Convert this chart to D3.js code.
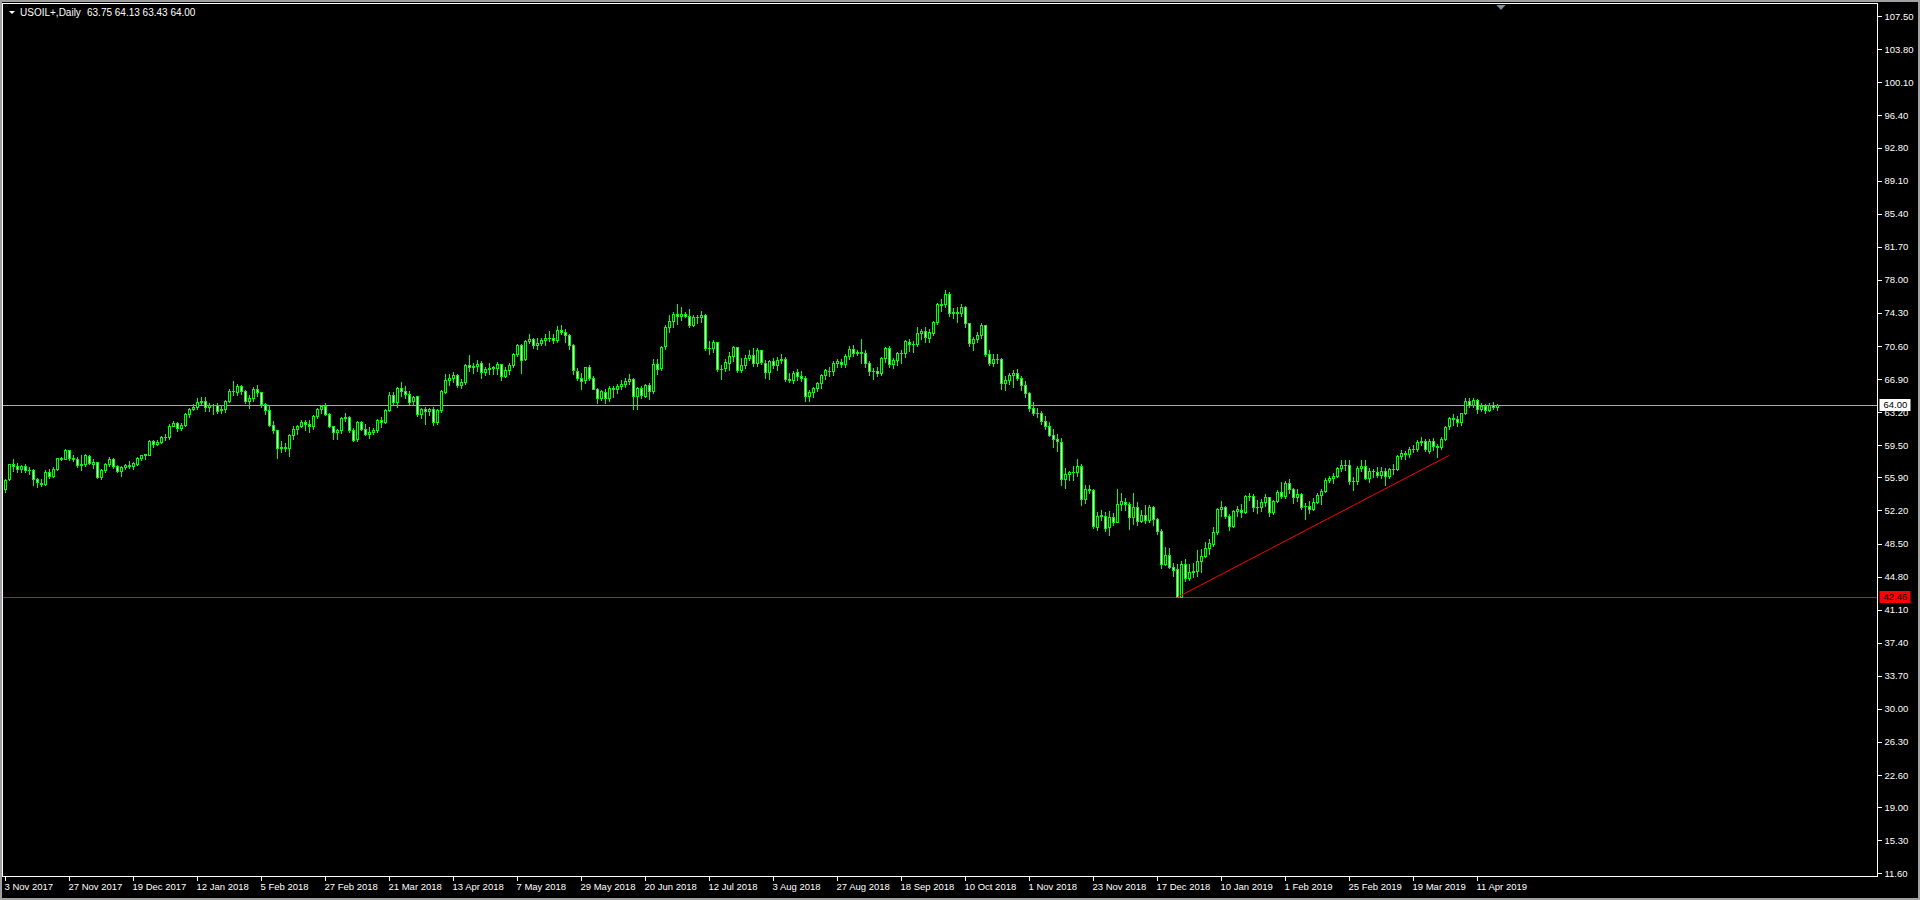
<!DOCTYPE html>
<html><head><meta charset="utf-8">
<script src="https://cdn.jsdelivr.net/npm/d3@7"></script>
<style>html,body{margin:0;padding:0;background:#000;overflow:hidden}
text{font-family:"Liberation Sans",Arial,sans-serif}</style>
</head><body>
<svg id="chart" width="1920" height="900"></svg>
<script>
// ---------- data ----------
const symbolTitle = "USOIL+,Daily";
const headerValues = "63.75 64.13 63.43 64.00";
// daily bars [open, high, low, close], 3 Nov 2017 .. 18 Apr 2019
const ohlc = [
[54.55,55.75,54.30,55.64],[55.70,57.45,55.55,57.35],[57.35,57.92,56.60,57.20],[57.20,57.55,56.50,56.81],[56.80,57.30,56.45,57.17],
[57.15,57.45,56.55,56.74],[56.75,57.10,56.25,56.76],[56.75,56.85,55.10,55.70],[55.70,55.85,54.85,55.33],[55.30,55.70,54.90,55.14],
[55.15,56.70,55.10,56.55],[56.55,56.80,55.80,56.09],[56.10,57.05,55.90,56.83],[56.85,58.10,56.75,58.02],[58.05,58.20,57.80,58.00],
[58.00,59.05,57.90,58.95],[58.95,59.00,57.85,58.11],[58.10,58.40,57.70,57.99],[57.95,58.15,57.10,57.30],[57.30,58.40,56.75,57.40],
[57.45,58.50,57.20,58.36],[58.30,58.40,57.35,57.47],[57.45,57.90,56.90,57.62],[57.60,57.65,55.85,55.96],[55.95,56.80,55.75,56.69],
[56.70,57.50,56.45,57.36],[57.35,58.20,57.20,57.99],[58.00,58.10,57.00,57.14],[57.15,57.30,56.45,56.60],[56.60,57.20,56.10,57.04],
[57.05,57.45,56.80,57.30],[57.30,57.70,57.00,57.16],[57.15,57.60,56.85,57.46],[57.45,58.20,57.30,58.09],[58.10,58.40,57.80,58.36],
[58.35,58.55,57.95,58.47],[58.45,60.05,58.40,59.97],[59.95,60.10,59.35,59.64],[59.65,60.05,59.50,59.84],[59.85,60.50,59.80,60.42],
[60.40,60.75,60.10,60.37],[60.40,61.90,60.20,61.63],[61.65,62.20,61.60,62.01],[62.00,62.05,61.10,61.44],[61.45,61.95,61.25,61.73],
[61.75,63.10,61.70,62.96],[62.95,63.70,62.60,63.57],[63.55,64.10,63.40,63.80],[63.80,64.75,63.60,64.30],[64.30,64.90,64.10,64.45],
[64.45,64.90,63.30,63.73],[63.75,64.20,63.30,63.97],[63.95,64.10,62.95,63.95],[63.95,64.20,63.15,63.37],[63.40,64.00,63.10,63.57],
[63.55,64.60,63.20,64.47],[64.50,65.75,64.30,65.61],[65.60,66.65,65.10,65.51],[65.50,66.30,65.10,66.14],[66.10,66.20,65.20,65.56],
[65.55,65.65,64.25,64.50],[64.50,65.10,63.65,64.73],[64.75,66.00,64.40,65.80],[65.80,66.25,64.95,65.45],[65.45,65.50,63.80,64.15],
[64.10,64.20,62.95,63.39],[63.40,64.05,61.70,61.79],[61.80,62.20,60.90,61.15],[61.15,61.25,58.10,59.20],[59.20,60.00,58.75,59.29],
[59.30,59.70,58.80,59.19],[59.20,60.80,58.25,60.60],[60.60,61.60,60.20,61.34],[61.35,61.80,60.75,61.68],[61.70,62.30,61.50,62.10],
[62.10,62.30,61.20,61.90],[61.90,62.30,61.00,61.68],[61.70,62.90,61.30,62.77],[62.80,63.70,62.50,63.55],[63.55,64.00,63.10,63.91],
[63.90,64.20,62.90,63.01],[63.00,63.15,61.50,61.64],[61.65,61.70,60.20,60.99],[61.00,61.35,60.15,61.25],[61.25,62.70,60.90,62.57],
[62.55,63.05,62.20,62.60],[62.60,62.75,60.95,61.15],[61.15,61.40,59.95,60.12],[60.15,62.20,60.00,62.04],[62.05,62.25,61.25,61.36],
[61.35,61.90,60.60,60.71],[60.70,61.50,60.25,60.96],[60.95,61.45,60.70,61.19],[61.20,62.45,61.00,62.34],[62.35,62.60,61.55,62.06],
[62.05,63.60,61.95,63.40],[63.40,65.40,63.30,65.17],[65.15,65.45,64.10,64.30],[64.30,66.00,63.80,65.88],[65.90,66.60,64.95,65.55],
[65.55,66.10,64.80,65.25],[65.25,65.55,64.10,64.38],[64.40,65.05,64.00,64.94],[64.95,65.00,62.80,63.01],[63.00,63.70,62.55,63.51],
[63.50,63.80,61.85,63.37],[63.35,63.65,62.85,63.54],[63.55,63.75,61.80,62.06],[62.05,63.55,61.85,63.42],[63.40,65.70,63.20,65.51],
[65.50,67.45,65.30,66.82],[66.80,67.50,66.20,67.07],[67.05,67.65,66.55,67.39],[67.40,67.50,66.05,66.22],[66.20,66.95,65.90,66.52],
[66.55,68.60,66.40,68.47],[68.45,69.55,67.85,68.29],[68.30,68.70,67.60,68.38],[68.40,69.05,67.85,68.64],[68.65,68.95,67.05,67.70],
[67.70,68.25,67.30,68.05],[68.05,68.75,67.50,68.19],[68.20,68.35,67.50,68.10],[68.10,68.85,67.50,68.57],[68.55,68.60,66.85,67.25],
[67.25,68.20,67.10,67.93],[67.95,68.65,67.50,68.43],[68.45,69.80,68.30,69.72],[69.75,70.85,69.50,70.73],[70.70,70.85,67.55,69.06],
[69.10,71.30,69.00,71.14],[71.15,71.90,70.95,71.36],[71.35,71.50,70.40,70.70],[70.70,71.45,70.30,70.96],[70.95,71.55,70.70,71.31],
[71.30,71.90,70.75,71.49],[71.50,72.30,71.15,71.49],[71.50,71.90,70.95,71.28],[71.30,72.80,71.00,72.35],[72.35,72.90,71.90,72.13],
[72.15,72.45,71.00,71.84],[71.85,71.95,70.30,70.71],[70.70,70.85,67.45,67.88],[67.85,68.10,66.80,67.00],[67.00,67.60,65.80,66.73],
[66.75,68.30,66.50,68.21],[68.20,68.45,66.80,67.04],[67.05,67.25,65.75,65.81],[65.80,65.90,64.20,64.75],[64.75,65.70,64.60,65.52],
[65.50,65.75,64.25,64.73],[64.75,66.10,64.50,65.95],[65.95,66.10,64.85,65.74],[65.75,66.40,65.35,66.10],[66.10,66.80,65.75,66.36],
[66.35,67.05,66.00,66.64],[66.65,67.45,66.35,66.89],[66.90,67.00,63.60,65.06],[65.05,66.00,63.60,65.85],[65.85,66.10,64.80,65.07],
[65.05,66.40,64.90,66.22],[66.20,66.50,64.70,65.54],[65.55,69.10,65.35,68.58],[68.60,69.15,67.50,68.08],[68.10,70.65,67.90,70.53],
[70.55,72.90,70.30,72.76],[72.75,74.05,72.20,73.45],[73.45,74.45,72.70,74.15],[74.15,75.25,73.10,73.94],[73.95,75.00,73.50,74.14],
[74.15,74.40,73.80,74.00],[74.00,74.75,72.70,72.94],[72.95,74.10,72.80,73.80],[73.80,74.10,73.15,73.85],[73.85,74.55,73.30,74.11],
[74.10,74.20,70.15,70.38],[70.40,71.20,69.65,70.33],[70.35,71.30,69.90,71.01],[71.00,71.05,67.75,68.06],[68.05,68.45,66.95,68.08],
[68.10,69.10,67.80,68.76],[68.75,69.90,67.90,69.46],[69.45,70.60,68.90,70.46],[70.45,70.50,67.70,67.89],[67.90,69.25,67.70,68.52],
[68.50,69.60,68.10,69.30],[69.30,70.20,69.00,69.61],[69.60,70.35,68.40,68.69],[68.70,70.40,68.40,70.13],[70.10,70.15,68.60,68.76],
[68.75,69.00,67.05,67.66],[67.65,69.05,66.95,68.96],[68.95,69.30,68.15,68.49],[68.50,69.40,67.90,69.01],[69.00,69.65,68.70,69.17],
[69.15,69.40,66.70,66.94],[66.95,67.60,66.60,66.81],[66.80,67.85,66.45,67.63],[67.65,68.00,66.80,67.20],[67.20,67.80,66.70,67.04],
[67.05,67.20,64.45,65.01],[65.00,65.70,64.40,65.46],[65.45,66.00,64.85,65.91],[65.90,66.60,65.60,66.43],[66.45,67.50,65.95,67.35],
[67.35,68.00,66.90,67.86],[67.85,68.20,67.25,67.83],[67.85,68.90,67.40,68.72],[68.70,69.15,68.30,68.87],[68.85,69.10,68.25,68.53],
[68.55,69.70,68.30,69.51],[69.50,70.55,69.20,70.25],[70.25,70.70,69.50,69.80],[69.80,70.20,69.55,69.90],[69.90,71.40,68.75,69.87],
[69.85,70.15,68.20,68.72],[68.70,68.95,67.40,67.77],[67.75,68.15,66.95,67.75],[67.75,68.30,67.20,67.54],[67.55,69.40,67.40,69.25],
[69.25,70.50,68.85,70.37],[70.35,70.60,68.25,68.59],[68.60,69.30,68.10,68.99],[69.00,69.90,68.50,69.85],[69.85,70.10,68.70,69.85],
[69.85,71.30,69.40,71.12],[71.10,71.40,70.00,70.80],[70.80,71.15,69.95,70.78],[70.80,72.70,70.55,72.08],[72.10,72.50,71.40,72.28],
[72.30,72.75,71.10,71.57],[71.55,72.45,71.10,72.12],[72.10,73.45,71.80,73.25],[73.25,75.45,73.10,75.30],[75.30,75.90,74.50,75.23],
[75.25,76.90,75.00,76.41],[76.40,76.60,73.90,74.33],[74.35,74.90,73.70,74.34],[74.35,75.00,73.30,74.29],[74.30,75.35,73.90,74.96],
[74.95,75.10,72.70,73.17],[73.15,73.20,70.55,70.97],[70.95,71.60,70.15,71.34],[71.35,72.20,71.10,71.78],[71.80,73.15,71.50,72.92],
[72.90,73.00,69.50,69.75],[69.75,70.15,68.50,68.65],[68.65,69.70,68.40,69.12],[69.10,69.70,68.75,69.17],[69.15,69.30,65.75,66.43],
[66.45,67.20,65.70,66.82],[66.80,67.60,66.30,67.33],[67.35,67.90,66.05,67.59],[67.60,68.05,66.75,67.04],[67.05,67.20,65.70,66.18],
[66.20,66.65,64.90,65.31],[65.30,65.45,63.30,63.69],[63.70,64.30,62.90,63.14],[63.15,63.70,62.60,63.10],[63.10,63.30,61.85,62.21],
[62.20,62.75,61.30,61.67],[61.65,62.10,60.50,60.67],[60.65,61.30,59.30,60.19],[60.20,60.70,58.85,59.93],[59.90,60.25,55.10,55.69],
[55.70,56.90,54.75,56.25],[56.25,56.60,55.60,56.46],[56.45,57.20,55.60,56.46],[56.45,57.95,56.00,57.20],[57.20,57.35,52.80,53.43],
[53.45,55.00,53.05,54.63],[54.65,55.00,54.10,54.45],[54.45,54.55,50.20,50.42],[50.40,52.00,50.00,51.63],[51.65,52.20,51.10,51.56],
[51.55,52.00,49.85,50.29],[50.30,52.10,49.40,51.45],[51.45,51.90,50.60,50.93],[50.95,54.55,50.90,52.95],[52.95,54.10,52.30,53.25],
[53.20,53.60,52.20,52.89],[52.90,53.10,50.10,51.49],[51.50,54.20,50.70,52.61],[52.60,53.10,50.60,51.00],[51.00,52.20,50.90,51.65],
[51.65,52.80,50.80,51.15],[51.15,52.85,50.95,52.58],[52.55,52.75,50.60,51.20],[51.20,51.35,49.60,49.88],[49.85,50.10,45.80,46.24],
[46.25,48.10,46.10,47.20],[47.20,48.05,45.80,45.88],[45.85,46.30,44.90,45.59],[45.60,46.20,42.46,42.53],[42.55,46.50,42.50,46.22],
[46.20,46.80,44.35,44.61],[44.60,46.20,44.45,45.33],[45.35,46.30,44.70,45.41],[45.40,47.75,44.90,46.54],[46.55,47.85,45.30,47.09],
[47.10,48.70,46.95,47.96],[47.95,49.05,47.30,48.52],[48.50,50.30,48.20,49.78],[49.80,52.45,49.60,52.36],[52.35,53.30,51.60,52.59],
[52.60,52.70,51.35,51.59],[51.60,51.75,50.00,50.51],[50.50,52.25,50.40,52.11],[52.10,52.75,51.55,52.31],[52.30,52.95,51.50,52.07],
[52.05,53.95,51.90,53.80],[53.80,54.10,53.40,53.85],[53.85,54.00,52.10,52.57],[52.55,53.35,51.90,52.62],[52.60,53.45,52.10,53.13],
[53.15,54.00,52.70,53.69],[53.70,53.75,51.55,51.99],[52.00,53.40,51.85,53.31],[53.30,54.45,53.10,54.23],[54.25,55.35,53.60,53.79],
[53.80,55.45,53.60,55.26],[55.25,55.75,54.10,54.56],[54.55,54.70,53.00,53.66],[53.65,54.60,53.30,54.01],[54.00,54.15,52.40,52.64],
[52.65,53.00,51.25,52.72],[52.70,53.30,51.90,52.41],[52.40,53.55,52.25,53.10],[53.10,54.20,53.00,53.90],[53.90,54.65,52.90,54.41],
[54.40,55.80,54.30,55.59],[55.60,56.00,55.40,55.80],[55.80,56.40,55.30,56.09],[56.10,57.05,55.90,56.92],[56.90,57.80,56.60,57.26],
[57.25,57.80,56.70,57.26],[57.25,57.80,55.20,55.48],[55.50,55.90,54.50,55.50],[55.50,57.20,55.20,56.94],[56.95,57.80,56.60,57.22],
[57.20,57.85,55.70,55.80],[55.80,57.00,55.40,56.59],[56.60,56.80,55.95,56.56],[56.55,57.05,55.90,56.22],[56.20,57.05,55.80,56.66],
[56.65,56.90,55.10,56.07],[56.05,56.90,55.80,56.79],[56.80,57.40,56.30,56.87],[56.85,58.45,56.75,58.26],[58.25,58.95,58.00,58.61],
[58.60,58.80,57.95,58.52],[58.50,59.25,58.20,59.09],[59.10,59.55,58.70,59.03],[59.05,60.05,58.80,59.83],[59.85,60.40,59.50,59.98],
[59.95,60.15,58.85,59.04],[58.90,60.20,58.60,59.94],[59.95,60.35,59.00,59.41],[59.40,59.60,58.20,59.30],[59.30,60.40,59.05,60.14],
[60.15,61.70,60.10,61.59],[61.60,62.70,61.30,62.58],[62.55,63.00,61.80,62.46],[62.45,62.80,61.70,62.10],[62.10,63.15,61.80,63.08],
[63.10,64.75,62.95,64.40],[64.40,64.80,63.75,64.05],[64.05,64.75,63.75,64.61],[64.60,64.65,63.10,63.58],[63.60,64.20,63.30,63.89],
[63.90,64.10,63.10,63.40],[63.40,64.20,63.30,64.05],[64.05,64.30,63.50,63.76],[63.75,64.13,63.43,64.00]
];
const dateLabels = ["3 Nov 2017","27 Nov 2017","19 Dec 2017","12 Jan 2018","5 Feb 2018","27 Feb 2018","21 Mar 2018",
  "13 Apr 2018","7 May 2018","29 May 2018","20 Jun 2018","12 Jul 2018","3 Aug 2018","27 Aug 2018","18 Sep 2018",
  "10 Oct 2018","1 Nov 2018","23 Nov 2018","17 Dec 2018","10 Jan 2019","1 Feb 2019","25 Feb 2019","19 Mar 2019","11 Apr 2019"];
const barsPerLabel = 16;
const priceTicks = [107.50,103.80,100.10,96.40,92.80,89.10,85.40,81.70,78.00,74.30,70.60,66.90,63.20,59.50,
  55.90,52.20,48.50,44.80,41.10,37.40,33.70,30.00,26.30,22.60,19.00,15.30,11.60];
const bidPrice = 64.00;
const supportPrice = 42.46;
const trendFrom = [293, 42.46];
const trendTo = [361, 58.35];

// ---------- layout ----------
const W = 1920, H = 900;
const plot = {left: 2.5, top: 3.5, right: 1877.5, bottom: 876.5};
const svg = d3.select("#chart");
const x = d3.scaleLinear().domain([0, ohlc.length - 1]).range([5, 5 + 4 * (ohlc.length - 1)]);
const y = d3.scaleLinear().domain([11.6, 107.5]).range([873.3, 16.2]);
const LIME = "#00ff00";

svg.append("rect").attr("width", W).attr("height", H).attr("fill", "#000");
// window frame
const frame = svg.append("g").attr("fill", "#a0a0a0");
frame.append("rect").attr("x", 0).attr("y", 0).attr("width", W).attr("height", 2);
frame.append("rect").attr("x", 0).attr("y", 0).attr("width", 2).attr("height", H);
frame.append("rect").attr("x", W - 2).attr("y", 0).attr("width", 2).attr("height", H);
frame.append("rect").attr("x", 0).attr("y", H - 2).attr("width", W).attr("height", 2);

svg.append("clipPath").attr("id", "clip").append("rect")
  .attr("x", plot.left + 0.5).attr("y", plot.top + 0.5)
  .attr("width", plot.right - plot.left - 1).attr("height", plot.bottom - plot.top - 1);

const g = svg.append("g").attr("clip-path", "url(#clip)").attr("shape-rendering", "crispEdges");

// bid line
const yb = Math.round(y(bidPrice)) + 0.5;
g.append("line").attr("x1", plot.left).attr("x2", plot.right).attr("y1", yb).attr("y2", yb)
  .attr("stroke", "#a8a8a8").attr("stroke-width", 1);
// support line
const ys = Math.round(y(supportPrice)) + 0.5;
g.append("line").attr("x1", plot.left).attr("x2", plot.right).attr("y1", ys).attr("y2", ys)
  .attr("stroke", "#ff0000").attr("stroke-width", 1);

// candles
const cg = g.append("g");
ohlc.forEach((d, i) => {
  const [o, h, l, c] = d;
  const cx = Math.round(x(i));
  const yh = Math.round(y(h)), yl = Math.round(y(l));
  cg.append("rect").attr("x", cx).attr("y", yh).attr("width", 1).attr("height", Math.max(1, yl - yh + 1)).attr("fill", LIME);
  const top = Math.round(y(Math.max(o, c))), bot = Math.round(y(Math.min(o, c)));
  cg.append("rect").attr("x", cx - 1).attr("y", top).attr("width", 3).attr("height", Math.max(1, bot - top + 1)).attr("fill", LIME);
  if (bot - top >= 2) {
    cg.append("rect").attr("x", cx).attr("y", top + 1).attr("width", 1).attr("height", bot - top - 1)
      .attr("fill", c >= o ? "#000" : "#fff");
  }
});

// trend line
svg.append("line")
  .attr("x1", x(trendFrom[0])).attr("y1", y(trendFrom[1]))
  .attr("x2", x(trendTo[0])).attr("y2", y(trendTo[1]))
  .attr("stroke", "#ff0000").attr("stroke-width", 1);

// plot border
svg.append("rect").attr("x", plot.left).attr("y", plot.top)
  .attr("width", plot.right - plot.left).attr("height", plot.bottom - plot.top)
  .attr("fill", "none").attr("stroke", "#fff").attr("stroke-width", 1).attr("shape-rendering", "crispEdges");

// price axis
const yAxis = d3.axisRight(y).tickValues(priceTicks).tickFormat(d3.format(".2f")).tickSize(4).tickSizeOuter(0).tickPadding(3);
const ya = svg.append("g").attr("transform", `translate(${plot.right},0)`).call(yAxis);
ya.select(".domain").remove();
ya.selectAll(".tick line").attr("stroke", "#fff").attr("shape-rendering", "crispEdges");
ya.selectAll(".tick text").attr("fill", "#fff").style("font-size", "9.5px").style("font-family", '"Liberation Sans",Arial,sans-serif');

// date axis
const dateIdx = dateLabels.map((_, k) => k * barsPerLabel);
const xAxis = d3.axisBottom(x).tickValues(dateIdx).tickFormat((v) => dateLabels[v / barsPerLabel]).tickSize(4).tickSizeOuter(0).tickPadding(3);
const xa = svg.append("g").attr("transform", `translate(0,${plot.bottom})`).call(xAxis);
xa.select(".domain").remove();
xa.selectAll(".tick line").attr("stroke", "#fff").attr("shape-rendering", "crispEdges");
xa.selectAll(".tick text").attr("fill", "#fff").attr("text-anchor", "start").attr("x", -1)
  .style("font-size", "9.5px").style("font-family", '"Liberation Sans",Arial,sans-serif');

// price boxes
function priceBox(p, bg, fg) {
  const yy = Math.round(y(p));
  svg.append("rect").attr("x", plot.right + 2).attr("y", yy - 6).attr("width", 31).attr("height", 12).attr("fill", bg);
  svg.append("text").attr("x", plot.right + 6).attr("y", yy).attr("dy", "0.35em").attr("fill", fg)
    .style("font-size", "9.5px").text(d3.format(".2f")(p));
}
priceBox(bidPrice, "#fff", "#000");
priceBox(supportPrice, "#ff0000", "#000");

// header
svg.append("path").attr("d", "M9,11 L15,11 L12,14 Z").attr("fill", "#fff");
svg.append("text").attr("x", 20).attr("y", 16).attr("fill", "#fff").style("font-size", "10px").text(symbolTitle);
svg.append("text").attr("x", 87).attr("y", 16).attr("fill", "#fff").style("font-size", "10px").text(headerValues);

// chart shift marker
const sx = x(ohlc.length - 1) + 4;
svg.append("path").attr("d", `M${sx - 4.5},5 L${sx + 4.5},5 L${sx},10 Z`).attr("fill", "#8090a0");
</script>
</body></html>
